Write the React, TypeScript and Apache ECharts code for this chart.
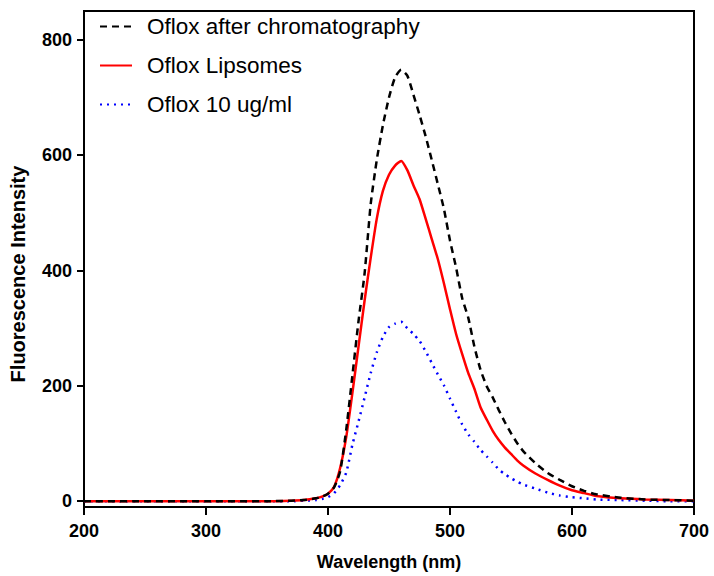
import React, { useEffect, useRef } from "react";
import * as echarts from "echarts";

const wavelengths = [200, 250, 300, 350, 370, 380, 390, 395, 400, 405, 410, 415, 420, 425, 430, 435, 440, 445, 450, 455, 460, 465, 470, 475, 480, 485, 490, 495, 500, 505, 510, 515, 520, 525, 530, 535, 540, 545, 550, 555, 560, 570, 580, 590, 600, 610, 620, 640, 660, 680, 700];

const afterChromatography = [0, 0, 0, 0, 1, 2, 5, 8, 13, 24, 52, 125, 218, 312, 395, 515, 592, 652, 700, 735, 748, 738, 705, 670, 633, 592, 550, 507, 452, 405, 352, 318, 268, 228, 200, 180, 158, 137, 118, 101, 87, 66, 49, 37, 26, 18, 12, 6, 3, 2, 1];

const lipsomes = [0, 0, 0, 0, 1, 2, 5, 8, 13, 25, 58, 112, 188, 268, 348, 422, 490, 538, 566, 582, 590, 574, 548, 524, 490, 455, 420, 378, 333, 290, 255, 222, 195, 163, 142, 122, 106, 93, 82, 71, 62, 48, 37, 27, 19, 14, 9, 5, 3, 2, 1];

const oflox10 = [0, 0, 0, 0, 0, 1, 2, 4, 7, 14, 28, 50, 98, 138, 180, 222, 258, 285, 302, 308, 311, 300, 290, 278, 260, 240, 220, 201, 178, 155, 133, 116, 103, 89, 78, 67, 55, 47, 40, 34, 29, 22, 15, 10, 7, 5, 3, 2, 1, 0, 0];

const seriesNames = ["Oflox after chromatography", "Oflox Lipsomes", "Oflox 10 ug/ml"];
const xTicks = [200, 300, 400, 500, 600, 700];
const yTicks = [0, 200, 400, 600, 800];

const FONT = "'Liberation Sans', Arial, sans-serif";

export default function App() {
  const ref = useRef<HTMLDivElement>(null);
  useEffect(() => {
    if (!ref.current) return;
    const chart = echarts.init(ref.current, undefined, { renderer: "svg" });
    const pairs = (vals: number[]) => wavelengths.map((w, i) => [w, vals[i]]);
    chart.setOption({
      animation: false,
      backgroundColor: "#fff",
      textStyle: { fontFamily: FONT },
      grid: {
        left: 84,
        right: 20,
        top: 11,
        bottom: 68,
        show: true,
        borderColor: "#000",
        borderWidth: 2,
      },
      legend: {
        orient: "vertical",
        left: 99,
        top: 15,
        padding: 0,
        itemWidth: 32,
        itemHeight: 20,
        itemGap: 16,
        itemStyle: { opacity: 0 },
        textStyle: { fontFamily: FONT, fontSize: 22.5, lineHeight: 20, color: "#000", padding: [0, 0, 0, 10] },
        data: seriesNames,
      },
      xAxis: {
        type: "value",
        min: 200,
        max: 700,
        interval: 100,
        name: "Wavelength (nm)",
        nameLocation: "middle",
        nameGap: 46,
        nameTextStyle: { fontFamily: FONT, fontSize: 18, fontWeight: "bold", color: "#000" },
        axisLine: { show: true, onZero: false, lineStyle: { color: "#000", width: 2 } },
        axisTick: { show: true, length: 8, lineStyle: { color: "#000", width: 2 }, customValues: xTicks },
        axisLabel: { margin: 15, fontFamily: FONT, fontSize: 18, fontWeight: "bold", color: "#000", customValues: xTicks },
        splitLine: { show: false },
      },
      yAxis: {
        type: "value",
        min: -10,
        max: 850,
        axisLine: { show: true, onZero: false, lineStyle: { color: "#000", width: 2 } },
        axisTick: { show: true, length: 7, lineStyle: { color: "#000", width: 2 }, customValues: yTicks },
        axisLabel: { margin: 12, fontFamily: FONT, fontSize: 18, fontWeight: "bold", color: "#000", customValues: yTicks },
        splitLine: { show: false },
      },
      graphic: [
        {
          type: "text",
          x: 18,
          y: 274,
          rotation: Math.PI / 2,
          style: {
            text: "Fluorescence Intensity",
            fontFamily: FONT,
            fontSize: 20,
            fontWeight: "bold",
            fill: "#000",
            align: "center",
            verticalAlign: "middle",
          },
        },
      ],
      series: [
        {
          name: seriesNames[0],
          type: "line",
          data: pairs(afterChromatography),
          symbol: "none",
          smooth: 0.2,
          lineStyle: { color: "#000", width: 2.5, type: [7, 5] },
          itemStyle: { color: "#000" },
          z: 3,
        },
        {
          name: seriesNames[1],
          type: "line",
          data: pairs(lipsomes),
          symbol: "none",
          smooth: 0.2,
          lineStyle: { color: "#ff0000", width: 2.5, type: "solid" },
          itemStyle: { color: "#ff0000" },
          z: 2,
        },
        {
          name: seriesNames[2],
          type: "line",
          data: pairs(oflox10),
          symbol: "none",
          smooth: 0.2,
          lineStyle: { color: "#0000ff", width: 2.5, type: [2, 5] },
          itemStyle: { color: "#0000ff" },
          z: 1,
        },
      ],
    });
    return () => chart.dispose();
  }, []);
  return <div ref={ref} style={{ position: "fixed", left: 0, top: 0, width: 714, height: 576 }} />;
}
